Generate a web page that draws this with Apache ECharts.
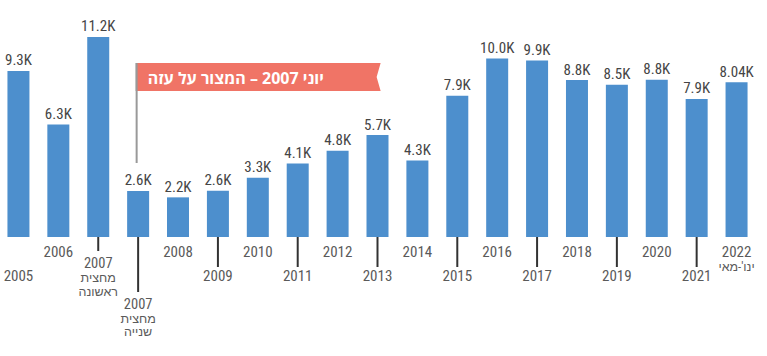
<!DOCTYPE html>
<html lang="he">
<head>
<meta charset="utf-8">
<script src="https://cdn.jsdelivr.net/npm/echarts@6/dist/echarts.min.js"></script>
<style>
html,body{margin:0;padding:0;background:#fff;}
#chart{width:767px;height:356px;}
</style>
</head>
<body>
<div id="chart"></div>
<script>
// ---- data ----
const yearLabels = ['2005','2006','2007','2007','2008','2009','2010','2011','2012','2013','2014','2015','2016','2017','2018','2019','2020','2021','2022'];
const subLabels = ['', '', 'מחצית\nראשונה', 'מחצית\nשנייה', '', '', '', '', '', '', '', '', '', '', '', '', '', '', "ינו'-מאי"];
const barValues = [9.3, 6.3, 11.2, 2.58, 2.22, 2.59, 3.32, 4.12, 4.83, 5.71, 4.29, 7.91, 10.0, 9.89, 8.79, 8.53, 8.8, 7.73, 8.66];
const valueLabels = ['9.3K','6.3K','11.2K','2.6K','2.2K','2.6K','3.3K','4.1K','4.8K','5.7K','4.3K','7.9K','10.0K','9.9K','8.8K','8.5K','8.8K','7.9K','8.04K'];
const annotationText = 'יוני 2007 – המצור על עזה';
const annotationIndex = 3;

// ---- layout ----
const labelTier = ['low0','up','mid','deep','up','low','up','low','up','low','up','low','up','low','up','low','up','low','up'];
const tickLen = { low: 30, mid: 14, deep: 55 };
const spacerStyle = { low0: 'sl', low: 'sl', mid: 'sm', deep: 'sd' };
const FONT = "'Liberation Sans Narrow','Roboto Condensed','Roboto',sans-serif";
const BAR = '#4d8fcd';
const BANNER = '#f07466';

const categories = yearLabels.map((y, i) => subLabels[i] ? y + ' ' + subLabels[i].replace('\n', ' ') : y);

const chart = echarts.init(document.getElementById('chart'), null, { renderer: 'svg' });

function fmtLabel(value, index) {
  const t = labelTier[index];
  const y = yearLabels[index];
  const subs = subLabels[index] ? subLabels[index].split('\n') : [];
  const parts = [];
  if (spacerStyle[t]) parts.push('{' + spacerStyle[t] + '|\u00a0}');
  const multi = (t === 'mid' || t === 'deep');
  parts.push((multi ? '{y3|' : '{y|') + y + '}');
  subs.forEach(s => parts.push((t === 'up' ? '{h2|' : '{h|') + s + '}'));
  return parts.join('\n');
}

const tickData = [];
labelTier.forEach((t, i) => { if (tickLen[t]) tickData.push([i, 0]); });

chart.setOption({
  animation: false,
  grid: { left: -1.5, right: 10.5, top: 22.7, bottom: 119, outerBoundsMode: 'none', containLabel: false },
  xAxis: {
    type: 'category',
    data: categories,
    axisLine: { show: false },
    axisTick: { show: false },
    axisLabel: {
      interval: 0,
      hideOverlap: false,
      margin: 7,
      formatter: fmtLabel,
      rich: {
        y: { fontFamily: FONT, fontSize: 15, lineHeight: 16, color: '#5a5a5a' },
        y3: { fontFamily: FONT, fontSize: 14.5, lineHeight: 15, color: '#5a5a5a' },
        h: { fontFamily: FONT, fontSize: 12.5, lineHeight: 13.5, color: '#5a5a5a' },
        h2: { fontFamily: FONT, fontSize: 12.5, lineHeight: 13.5, color: '#5a5a5a' },
        sl: { fontSize: 2, lineHeight: 24 },
        sm: { fontSize: 2, lineHeight: 12 },
        sd: { fontSize: 2, lineHeight: 52.5 }
      }
    }
  },
  yAxis: { type: 'value', min: 0, max: 12, show: false },
  series: [
    {
      type: 'bar',
      data: barValues,
      barWidth: 22,
      itemStyle: { color: BAR },
      label: {
        show: true,
        position: 'top',
        distance: 3,
        fontFamily: FONT,
        fontSize: 15,
        lineHeight: 15,
        color: '#454545',
        formatter: p => valueLabels[p.dataIndex]
      }
    },
    {
      type: 'custom',
      silent: true,
      data: tickData,
      renderItem: function (params, api) {
        const idx = api.value(0);
        const p = api.coord([idx, 0]);
        const len = tickLen[labelTier[idx]];
        return {
          type: 'line',
          shape: { x1: p[0], y1: p[1], x2: p[0], y2: p[1] + len },
          style: { stroke: '#333', lineWidth: 2 }
        };
      }
    },
    {
      type: 'custom',
      silent: true,
      data: [[annotationIndex, 0]],
      renderItem: function (params, api) {
        const p = api.coord([api.value(0), 0]);
        const x0 = p[0] - 1.5;
        const top = p[1] - 174;
        const h = 28;
        const w = 244;
        return {
          type: 'group',
          children: [
            { type: 'line', shape: { x1: x0, y1: top, x2: x0, y2: p[1] - 74 }, style: { stroke: '#999', lineWidth: 2 } },
            { type: 'polygon', shape: { points: [[x0, top], [x0 + w, top], [x0 + w - 4, top + h / 2], [x0 + w, top + h], [x0, top + h]] }, style: { fill: BANNER } },
            { type: 'line', shape: { x1: x0, y1: top, x2: x0, y2: top + h }, style: { stroke: '#999', lineWidth: 2 } },
            { type: 'text', x: x0 + 11, y: top + h / 2 + 0.5, style: { text: '\u202B' + annotationText + '\u202C', fill: '#fff', font: "bold 16px 'Open Sans','Liberation Sans',sans-serif", align: 'left', verticalAlign: 'middle' } }
          ]
        };
      }
    }
  ]
});
</script>
</body>
</html>
